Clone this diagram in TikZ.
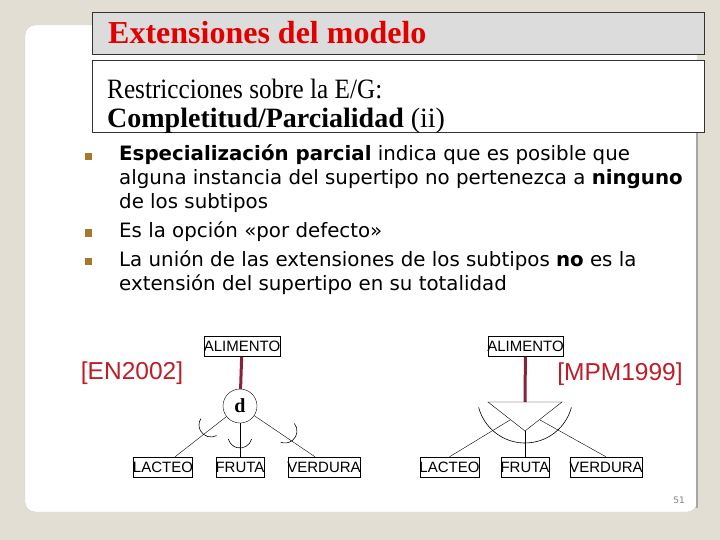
\documentclass[tikz,border=0pt]{standalone}
\usepackage{graphicx}
\usepackage{fontspec}
\setmainfont{Liberation Serif}
\setsansfont{Liberation Sans}
\newfontfamily\tahoma{DejaVu Sans}
\usetikzlibrary{positioning}
\definecolor{fondo}{RGB}{227,222,212}
\definecolor{titgris}{RGB}{220,220,220}
\definecolor{rojotit}{RGB}{225,0,0}
\definecolor{rojoref}{RGB}{190,30,40}
\definecolor{granate}{RGB}{135,35,55}
\definecolor{vinieta}{RGB}{165,120,45}

\begin{document}
\begin{tikzpicture}[x=1pt,y=-1pt,
  entidad/.style={draw, font=\sffamily\fontsize{15}{15}\selectfont, inner xsep=-0.5pt, inner ysep=0pt, minimum height=20pt},
  item/.style={anchor=north west, align=left, inner sep=0pt, font=\tahoma\fontsize{19.8}{24}\selectfont},
  vineta/.style={fill=vinieta, inner sep=0pt, minimum size=7pt},
  cita/.style={text=rojoref, font=\sffamily\fontsize{24.5}{24.5}\selectfont},
  subconj/.style={line width=0.6pt}]
  \useasboundingbox (0,0) rectangle (720,540);
  \fill[fondo] (0,0) rectangle (720,540);
  % tarjeta
  \draw[draw=gray!35, fill=white, rounded corners=10pt] (25,25) rectangle (697,512);
  \draw[gray!70, line width=1.2pt] (697,60) -- (697,508);
  % cabecera
  \node[draw=black!80, fill=titgris, anchor=north west, minimum width=612pt, minimum height=42pt] (cabecera) at (92,12) {};
  \node[anchor=west, text=rojotit, font=\bfseries\fontsize{32}{32}\selectfont, inner sep=0pt] (titulo) at (108,33) {Extensiones del modelo};
  \node[draw=black!80, fill=white, anchor=north west, minimum width=612pt, minimum height=72pt] (subcaja) at (92,60) {};
  \node[anchor=north west, align=left, inner sep=0pt, font=\fontsize{28}{29}\selectfont] (subtitulo) at (107,79)
    {\scalebox{0.9}[1]{Restricciones sobre la E/G:}\\ \textbf{Completitud/Parcialidad} (ii)};
  % vinetas
  \node[vineta] (v1) at (88,157) {};
  \node[vineta] (v2) at (88,233) {};
  \node[vineta] (v3) at (88,261) {};
  \node[item] (item1) at (119,144) {\textbf{Especialización parcial} indica que es posible que\\
    alguna instancia del supertipo no pertenezca a \textbf{ninguno}\\ de los subtipos};
  \node[item] (item2) at (119,221) {Es la opción «por defecto»};
  \node[item] (item3) at (119,250) {La unión de las extensiones de los subtipos \textbf{no} es la\\
    extensión del supertipo en su totalidad};
  % diagrama izquierdo [EN2002]
  \node[entidad] (alimL) at (242,346.5) {ALIMENTO};
  \node[cita] (refEN) at (132,373) {[EN2002]};
  \node[draw, circle, minimum size=34pt, inner sep=0pt, font=\bfseries\fontsize{20}{20}\selectfont] (disj) at (240,406) {d};
  \node[entidad] (lacteoL) at (163,467) {LACTEO};
  \node[entidad] (frutaL) at (240,467) {FRUTA};
  \node[entidad] (verduraL) at (324,467) {VERDURA};
  \draw[granate, line width=3pt] (alimL) -- (disj);
  \draw (disj) -- ([xshift=12pt]lacteoL.north);
  \draw (disj) -- (frutaL);
  \draw (disj) -- ([xshift=-9pt]verduraL.north);
  \draw[subconj] ([shift={(211,425)}]62:12) arc[start angle=62, end angle=212, radius=12];
  \draw[subconj] ([shift={(240,436)}]15:12) arc[start angle=15, end angle=165, radius=12];
  \draw[subconj] ([shift={(285,431)}]-39:12) arc[start angle=-39, end angle=111, radius=12];
  % diagrama derecho [MPM1999]
  \node[entidad] (alimR) at (525.5,346.5) {ALIMENTO};
  \node[cita] (refMPM) at (620,374) {[MPM1999]};
  \coordinate (triA) at (488,402);
  \coordinate (triB) at (562,402);
  \coordinate (triC) at (525,431);
  \coordinate (triTop) at (525,402);
  \coordinate (ladoI) at (510,420);
  \coordinate (ladoD) at (540,420);
  \node[entidad] (lacteoR) at (449.5,467) {LACTEO};
  \node[entidad] (frutaR) at (525,467) {FRUTA};
  \node[entidad] (verduraR) at (606,467) {VERDURA};
  \draw[granate, line width=3pt] (alimR) -- (triTop);
  \draw (triA) -- (triB) -- (triC) -- cycle;
  \draw (triC) -- (frutaR);
  \draw (ladoI) -- (lacteoR.north);
  \draw (ladoD) -- (verduraR.north);
  \draw[subconj] ([shift={(525,395)}]165:48) arc[start angle=165, end angle=15, radius=48];
  % numero de pagina
  \node[text=gray, font=\tahoma\fontsize{9}{9}\selectfont] (pagina) at (679,500) {51};
\end{tikzpicture}
\end{document}
